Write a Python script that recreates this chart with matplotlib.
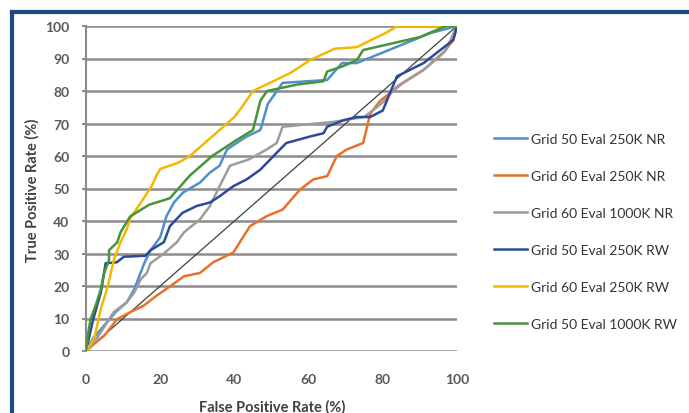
import matplotlib
matplotlib.use("Agg")
import matplotlib.pyplot as plt
from matplotlib.lines import Line2D

plt.rcParams['font.family'] = ['Lato', 'DejaVu Sans']

series_names = [
    "Grid 50 Eval 250K NR",
    "Grid 60 Eval 250K NR",
    "Grid 60 Eval 1000K NR",
    "Grid 50 Eval 250K RW",
    "Grid 60 Eval 250K RW",
    "Grid 50 Eval 1000K RW",
]
series_colors = ["#4F8FCF", "#E8702A", "#9C9C9C", "#2B4A9A", "#F5B800", "#46953A"]

# false positive rate (%) / true positive rate (%)
fpr_g50_250_nr = [0, 2, 5, 8, 11, 13, 14.7, 15.7, 17.4, 20, 21.7, 23.7, 26.2, 30.7, 33.4, 36, 38, 40.6,
                  43.3, 47, 49, 53, 65, 69, 73, 83.8, 92.8, 100]
tpr_g50_250_nr = [0, 4, 8, 12, 15, 19, 24, 27, 31, 35, 41.5, 45.7, 48.8, 51.8, 54.9, 57, 62, 64,
                  66, 68, 76, 82.5, 83.4, 88.6, 88.6, 93.6, 97.8, 100]

fpr_g60_250_nr = [0, 2, 4.9, 8.4, 12, 15.6, 19, 22.8, 26.4, 30.7, 34.3, 39.7, 44.2, 48.7, 53, 57.7,
                  61.3, 65, 67.6, 70.3, 74.7, 76.6, 79.3, 85.5, 91, 96.3, 99, 100]
tpr_g60_250_nr = [0, 2, 4.7, 9.8, 12, 14, 17, 20, 23, 24, 27.3, 30.3, 38.4, 41.5, 43.5, 49.7,
                  52.8, 53.8, 60, 62, 64, 73, 77, 82.5, 86.5, 91.7, 95.7, 100]

fpr_g60_1000_nr = [0, 3, 7.5, 11, 13, 14.7, 16.4, 17.4, 21, 24.5, 26.4, 30.7, 33.4, 36, 38.8, 44,
                   48.7, 51.4, 53, 66.7, 75, 80, 83.8, 91, 97, 100]
tpr_g60_1000_nr = [0, 4, 12, 15, 18, 22, 24, 27, 30, 33.5, 36.5, 40.5, 44.6, 50.7, 57, 59,
                   62, 64, 69, 70.5, 72, 76.5, 81.4, 86.5, 92.6, 100]

fpr_g50_250_rw = [0, 2, 4, 5.3, 8.3, 10.2, 16, 17.4, 21, 22.6, 26, 29.8, 33.4, 36, 39.7, 43.3, 47,
                  51.4, 54, 60.4, 64, 65, 69.4, 73, 76.6, 80, 83.8, 91, 99, 100]
tpr_g50_250_rw = [0, 10, 18, 27, 27.3, 29, 29.3, 31, 33.5, 38.4, 42.5, 44.6, 45.7, 47.6, 50.7, 52.8, 55.8,
                  61, 64, 66, 67, 69, 71, 72, 72, 74, 84.5, 88.6, 95.7, 100]

fpr_g60_250_rw = [0, 2.2, 4, 5.9, 7.5, 9.3, 11, 12, 15, 17.8, 19, 20, 25, 28, 34, 40, 42, 45, 55, 60.4,
                  67, 73, 81, 84, 100]
tpr_g60_250_rw = [0, 3.7, 13, 20, 28, 33.5, 37.5, 41, 46, 51, 54, 56, 58, 60, 66, 72, 75, 80, 85.5, 89.5,
                  93, 93.5, 98, 100, 100]

fpr_g50_1000_rw = [0, 0.4, 0.8, 1.3, 2.6, 4, 4.9, 6.2, 6.2, 8.4, 9.3, 11.9, 17, 22.6, 28, 34, 40.7,
                   45, 47, 48.8, 57, 64, 65, 69, 73, 74.7, 90, 97, 100]
tpr_g50_1000_rw = [0, 3.7, 7, 10, 14, 19, 24, 28, 31, 33.4, 36.5, 41.4, 45, 47, 54, 60, 65,
                   68, 77, 80, 82, 83, 86, 87.5, 89.5, 92.6, 96.6, 100, 100]

all_fpr = [fpr_g50_250_nr, fpr_g60_250_nr, fpr_g60_1000_nr, fpr_g50_250_rw, fpr_g60_250_rw, fpr_g50_1000_rw]
all_tpr = [tpr_g50_250_nr, tpr_g60_250_nr, tpr_g60_1000_nr, tpr_g50_250_rw, tpr_g60_250_rw, tpr_g50_1000_rw]

chance_line = [0, 100]
y_ticks = [0, 10, 20, 30, 40, 50, 60, 70, 80, 90, 100]
x_ticks = [0, 20, 40, 60, 80, 100]

fig = plt.figure(figsize=(6.89, 4.14), dpi=100)
ax = fig.add_axes([86 / 689, 1 - 352 / 414, (457 - 86) / 689, (352 - 27) / 414])

# horizontal gridlines
for yt in y_ticks:
    ax.axhline(yt, color="#8C8C8C", lw=1.8, zorder=1)

ax.plot(chance_line, chance_line, color="#404040", lw=0.9, zorder=2)

for fx, ty, col in zip(all_fpr, all_tpr, series_colors):
    ax.plot(fx, ty, color=col, lw=1.8, zorder=3)

ax.set_xlim(0, 100)
ax.set_ylim(0, 100)
ax.set_xticks(x_ticks)
ax.set_yticks(y_ticks)
for s in ["top", "right", "bottom"]:
    ax.spines[s].set_visible(False)
ax.spines["left"].set_color("#8C8C8C")
ax.spines["left"].set_linewidth(1.5)
ax.tick_params(axis="y", length=3, width=1.5, color="#8C8C8C", pad=9,
               labelsize=10, labelcolor="#595959")
ax.tick_params(axis="x", length=0, pad=16, labelsize=10, labelcolor="#595959")
for lab in ax.get_xticklabels() + ax.get_yticklabels():
    lab.set_fontweight("bold")

fig.text(32 / 689, 1 - 190 / 414, "True Positive Rate (%)", rotation=90, ha="center", va="center",
         fontsize=10.5, fontweight="bold", color="#404040")
fig.text(272 / 689, 1 - 407 / 414, "False Positive Rate (%)", ha="center", va="center",
         fontsize=10.5, fontweight="bold", color="#404040")

handles = [Line2D([], [], color=c, lw=1.8) for c in series_colors]
fig.legend(handles, series_names, loc="upper left", bbox_to_anchor=(494 / 689, 1 - 134 / 414),
           frameon=False, fontsize=10, labelcolor="#333333", handlelength=2.4,
           handletextpad=0.3, labelspacing=1.8, borderpad=0, borderaxespad=0)

# dark blue frame on top and left
fig.add_artist(Line2D([12 / 689, 1], [1 - 13 / 414, 1 - 13 / 414], color="#1F4A7C", lw=3,
                      transform=fig.transFigure))
fig.add_artist(Line2D([12 / 689, 12 / 689], [0, 1 - 13 / 414], color="#1F4A7C", lw=3,
                      transform=fig.transFigure))

fig.savefig("out.png", dpi=100)
